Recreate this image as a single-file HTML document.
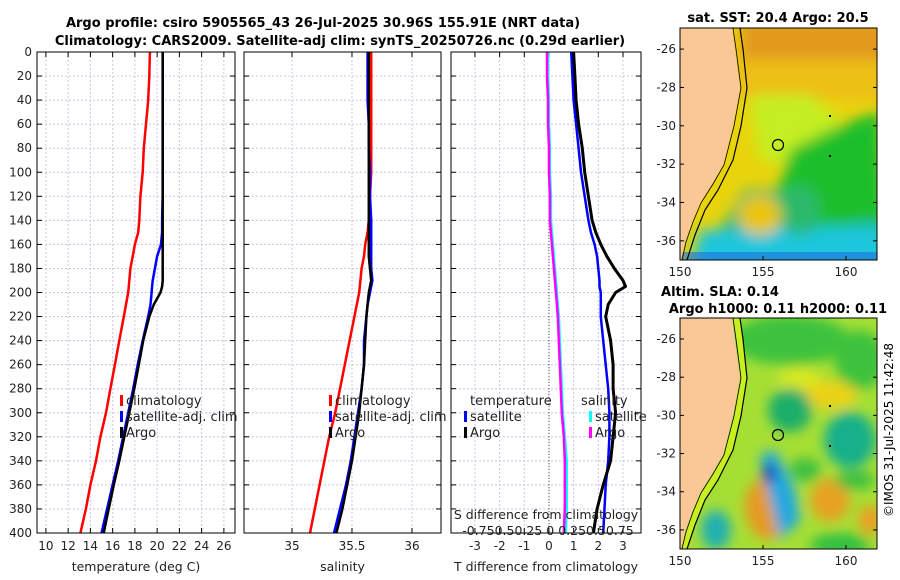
<!DOCTYPE html>
<html><head><meta charset="utf-8">
<style>
html,body{margin:0;padding:0;background:#fff;}
svg{display:block;font-family:"DejaVu Sans","Liberation Sans",sans-serif;}
</style></head>
<body>
<svg id="fig" width="900" height="580" viewBox="0 0 900 580">
<defs>
<filter id="bl" x="-20%" y="-20%" width="140%" height="140%"><feGaussianBlur stdDeviation="7"/></filter>
<filter id="bl2" x="-20%" y="-20%" width="140%" height="140%"><feGaussianBlur stdDeviation="6"/></filter>
<clipPath id="c1"><rect x="680" y="28" width="197" height="232"/></clipPath>
<clipPath id="c2"><rect x="680" y="318" width="197" height="231"/></clipPath>
</defs>
<text x="323" y="27" text-anchor="middle" font-size="13" font-weight="bold">Argo profile: csiro 5905565_43 26-Jul-2025 30.96S 155.91E (NRT data)</text>
<text x="340" y="45" text-anchor="middle" font-size="13" font-weight="bold">Climatology: CARS2009. Satellite-adj clim: synTS_20250726.nc (0.29d earlier)</text>

<!-- SST map -->
<g clip-path="url(#c1)">
<rect x="680" y="28" width="197" height="232" fill="#e9d40c"/>
<g filter="url(#bl)">
<rect x="740" y="20" width="150" height="55" fill="#e39a1c"/>
<rect x="730" y="60" width="160" height="40" fill="#edc012"/>
<path d="M750 95 L810 95 L840 120 L830 150 L790 165 L760 160Z" fill="#c4ef22"/>
<path d="M790 150 L830 130 L880 110 L890 270 L760 270 L770 220 Z" fill="#1fbf2a"/>
<path d="M745 190 L790 190 L800 230 L880 220 L890 270 L690 270 L720 230Z" fill="#27b77a"/>
<path d="M700 230 L880 225 L890 270 L690 270Z" fill="#1ec6dc"/>
<ellipse cx="760" cy="215" rx="22" ry="20" fill="#eac50c"/>
<ellipse cx="800" cy="210" rx="20" ry="25" fill="#2cb96a"/>
</g>
<rect x="680" y="252" width="197" height="8" fill="#2070e0" opacity="0.6"/>
<path d="M680 28 L732 28 L735 49 L740 88 L733 126 L723 165 L712 184 L700 203 L692 222 L685 242 L681 260 L680 260Z" fill="#f9c896"/>
<path d="M740 28 L743 49 L747 88 L741 126 L733 160 L718 190 L705 210 L695 235 L687 260" fill="none" stroke="#000" stroke-width="1.2"/>
<path d="M733 28 L736 49 L741 88 L734 126 L724 165 L713 184 L701 203 L693 222 L686 242 L682 260" fill="none" stroke="#000" stroke-width="0.8"/>
<circle cx="778" cy="145" r="5.5" fill="none" stroke="#000" stroke-width="1.2"/>
<rect x="829" y="115" width="2" height="2" fill="#000"/><rect x="829" y="155" width="2" height="2" fill="#000"/>
</g>
<rect x="680" y="28" width="197" height="232" fill="none" stroke="#000" stroke-width="1"/>
<text x="778" y="22" text-anchor="middle" font-size="13" font-weight="bold">sat. SST: 20.4 Argo: 20.5</text>

<!-- SLA map -->
<g clip-path="url(#c2)">
<rect x="680" y="318" width="197" height="231" fill="#a6df34"/>
<g filter="url(#bl2)">
<ellipse cx="790" cy="340" rx="60" ry="25" fill="#3cc23c"/>
<ellipse cx="860" cy="360" rx="25" ry="30" fill="#3cc23c"/>
<ellipse cx="800" cy="380" rx="22" ry="12" fill="#d8e820"/>
<ellipse cx="830" cy="395" rx="28" ry="14" fill="#ecd218"/>
<ellipse cx="790" cy="410" rx="22" ry="22" fill="#1fae6a"/>
<ellipse cx="850" cy="440" rx="26" ry="28" fill="#18b08a"/>
<ellipse cx="765" cy="510" rx="20" ry="30" fill="#e59a20" transform="rotate(-10 765 510)"/>
<ellipse cx="830" cy="500" rx="20" ry="22" fill="#e7a222"/>
<ellipse cx="805" cy="470" rx="16" ry="12" fill="#40c040"/>
<path d="M760 455 L775 450 L795 490 L800 520 L780 540 L770 500Z" fill="#20a8e0"/>
<ellipse cx="769" cy="474" rx="7" ry="10" fill="#1840c0"/>
<ellipse cx="716" cy="530" rx="15" ry="20" fill="#22b0b0"/>
<ellipse cx="870" cy="520" rx="12" ry="15" fill="#eaa020"/>
<ellipse cx="840" cy="545" rx="30" ry="12" fill="#30c040"/>
<ellipse cx="855" cy="480" rx="20" ry="10" fill="#40c040"/>
</g>
<path d="M680 318 L732 318 L735 339 L740 378 L733 416 L723 455 L712 474 L700 493 L692 512 L685 532 L681 549 L680 549Z" fill="#f9c896"/>
<path d="M733 318 L740 318 L743 339 L747 378 L741 416 L733 450 L718 480 L705 500 L695 525 L687 549 L682 549 L686 532 L693 512 L701 493 L713 474 L724 455 L734 416 L741 378 L736 339Z" fill="#c8ef20"/>
<path d="M740 318 L743 339 L747 378 L741 416 L733 450 L718 480 L705 500 L695 525 L687 549" fill="none" stroke="#000" stroke-width="1.2"/>
<path d="M733 318 L736 339 L741 378 L734 416 L724 455 L713 474 L701 493 L693 512 L686 532 L682 549" fill="none" stroke="#000" stroke-width="0.8"/>
<circle cx="778" cy="435" r="5.5" fill="none" stroke="#000" stroke-width="1.2"/>
<rect x="829" y="405" width="2" height="2" fill="#000"/><rect x="829" y="445" width="2" height="2" fill="#000"/>
</g>
<rect x="680" y="318" width="197" height="231" fill="none" stroke="#000" stroke-width="1"/>
<text x="720" y="296" text-anchor="middle" font-size="13" font-weight="bold">Altim. SLA: 0.14</text>
<text x="778" y="313" text-anchor="middle" font-size="13" font-weight="bold">Argo h1000: 0.11 h2000: 0.11</text>
<text transform="translate(893 430) rotate(-90)" text-anchor="middle" font-size="12">©IMOS 31-Jul-2025 11:42:48</text>
</svg>
<script>
const depth=[0,20,40,60,80,100,120,140,150,160,170,180,190,195,200,210,220,240,260,280,300,320,340,360,380,400];
const tempClim=[19.35,19.3,19.2,19.0,18.8,18.7,18.5,18.4,18.3,18.0,17.8,17.6,17.5,17.45,17.4,17.2,17.0,16.6,16.2,15.8,15.4,14.9,14.5,14.0,13.6,13.1];
const tempSat=[20.5,20.5,20.5,20.5,20.5,20.5,20.5,20.45,20.45,20.35,20.0,19.8,19.6,19.55,19.5,19.4,19.2,18.7,18.25,17.85,17.4,16.95,16.5,16.0,15.5,15.0];
const tempArgo=[20.5,20.5,20.5,20.5,20.5,20.5,20.5,20.5,20.5,20.5,20.5,20.5,20.5,20.45,20.3,19.7,19.3,18.75,18.35,17.95,17.5,17.05,16.6,16.1,15.65,15.2];
const salClim=[35.66,35.66,35.66,35.66,35.66,35.66,35.65,35.64,35.63,35.61,35.6,35.58,35.57,35.565,35.56,35.54,35.52,35.48,35.44,35.4,35.36,35.31,35.27,35.23,35.19,35.15];
const salSat=[35.63,35.63,35.63,35.64,35.64,35.65,35.65,35.66,35.66,35.66,35.66,35.66,35.67,35.66,35.65,35.63,35.62,35.6,35.6,35.58,35.55,35.52,35.49,35.45,35.4,35.35];
const salArgo=[35.64,35.64,35.64,35.64,35.64,35.64,35.64,35.64,35.64,35.64,35.64,35.65,35.66,35.65,35.64,35.63,35.62,35.61,35.6,35.58,35.56,35.53,35.5,35.46,35.42,35.37];
const tdiffSat=[0.9,0.95,1.0,1.1,1.2,1.3,1.45,1.6,1.7,1.85,1.95,2.0,2.05,2.05,2.1,2.1,2.1,2.2,2.3,2.4,2.45,2.45,2.4,2.3,2.25,2.2];
const tdiffArgo=[1.0,1.05,1.1,1.2,1.35,1.45,1.6,1.75,1.9,2.1,2.35,2.65,3.0,3.1,2.7,2.4,2.3,2.5,2.6,2.6,2.7,2.6,2.5,2.2,1.95,1.8];
const sdiffSat=[-0.01,-0.01,0,0,0.01,0.01,0.02,0.02,0.03,0.04,0.05,0.06,0.07,0.075,0.08,0.09,0.1,0.11,0.12,0.13,0.14,0.16,0.18,0.18,0.18,0.17];
const sdiffArgo=[-0.02,-0.02,-0.01,-0.01,0,0,0.01,0.01,0.02,0.03,0.04,0.05,0.06,0.065,0.07,0.08,0.09,0.1,0.11,0.12,0.13,0.15,0.16,0.16,0.16,0.15];
const depthTicks=[0,20,40,60,80,100,120,140,160,180,200,220,240,260,280,300,320,340,360,380,400];
const tempTicks=[10,12,14,16,18,20,22,24,26];
const salTicks=[35,35.5,36];
const tdiffTicks=[-3,-2,-1,0,1,2,3];
const latTicks=[-26,-28,-30,-32,-34,-36];
const lonTicks=[150,155,160];

const NS="http://www.w3.org/2000/svg";
const svg=document.getElementById('fig');
function mk(tag,attrs,parent){const e=document.createElementNS(NS,tag);for(const k in attrs)e.setAttribute(k,attrs[k]);(parent||svg).appendChild(e);return e;}
const Y0=52,Y1=533;
const yD=d=>Y0+(d/400)*(Y1-Y0);
function panel(name,x0,x1,xmin,xmax,ticks,fmt,showY,label){
  const g=mk('g',{});
  
  
  const xs=v=>x0+(v-xmin)/(xmax-xmin)*(x1-x0);
  ticks.forEach(t=>{mk('line',{x1:xs(t),x2:xs(t),y1:Y0,y2:Y1,stroke:'#c4c8e4','stroke-dasharray':'2,2','stroke-width':1},g);
    mk('line',{x1:xs(t),x2:xs(t),y1:Y1,y2:Y1-5,stroke:'#000'},g);mk('line',{x1:xs(t),x2:xs(t),y1:Y0,y2:Y0+5,stroke:'#000'},g);
    const tx=mk('text',{x:xs(t),y:Y1+17,'text-anchor':'middle','font-size':12,fill:'#222'},g);tx.textContent=fmt(t);});
  depthTicks.forEach(d=>{mk('line',{x1:x0,x2:x1,y1:yD(d),y2:yD(d),stroke:'#c4c8e4','stroke-dasharray':'2,2'},g);
    mk('line',{x1:x0,x2:x0+5,y1:yD(d),y2:yD(d),stroke:'#000'},g);mk('line',{x1:x1,x2:x1-5,y1:yD(d),y2:yD(d),stroke:'#000'},g);
    if(showY){const tx=mk('text',{x:x0-5,y:yD(d)+4,'text-anchor':'end','font-size':12,fill:'#222'},g);tx.textContent=d;}});
  const l=mk('text',{x:(x0+x1)/2,y:Y1+38,'text-anchor':'middle','font-size':12.5,fill:'#222'},g);l.textContent=label;
  return {g,xs,x0,x1};
}
function line(p,vals,color,w,name){
  const pts=vals.map((v,i)=>p.xs(v).toFixed(1)+','+yD(depth[i]).toFixed(1)).join(' ');
  const e=mk('polyline',{points:pts,fill:'none',stroke:color,'stroke-width':w,'stroke-linejoin':'round'},p.g);
  
  
}
function frame(p){mk('rect',{x:p.x0,y:Y0,width:p.x1-p.x0,height:Y1-Y0,fill:'none',stroke:'#000','stroke-width':1},p.g);}
function leg(p,x,y,color,txt){mk('rect',{x:x,y:y-10,width:3,height:11,fill:color},p.g);const t=mk('text',{x:x+6,y:y,'font-size':13,fill:'#222'},p.g);t.textContent=txt;}

const p1=panel('temperature-panel',37,235,9.2,27.0,tempTicks,t=>t,true,'temperature (deg C)');
line(p1,tempClim,'#ff0000',2.5,'temp-climatology-line');
line(p1,tempSat,'#0000ff',2.5,'temp-satellite-line');
line(p1,tempArgo,'#000',2.5,'temp-argo-line');
frame(p1);
leg(p1,120,405,'#ff0000','climatology');leg(p1,120,421,'#0000ff','satellite-adj. clim');leg(p1,120,437,'#000','Argo');

const p2=panel('salinity-panel',244,441,34.6,36.242,salTicks,t=>t,false,'salinity');
line(p2,salClim,'#ff0000',2.5,'sal-climatology-line');
line(p2,salSat,'#0000ff',2.5,'sal-satellite-line');
line(p2,salArgo,'#000',2.5,'sal-argo-line');
frame(p2);
leg(p2,329,405,'#ff0000','climatology');leg(p2,329,421,'#0000ff','satellite-adj. clim');leg(p2,329,437,'#000','Argo');

const p3=panel('difference-panel',451,641,-3.97,3.73,tdiffTicks,t=>t,false,'T difference from climatology');
mk('line',{x1:p3.xs(0),x2:p3.xs(0),y1:Y0,y2:Y1,stroke:'#555','stroke-dasharray':'1,2'},p3.g);
const ps={g:p3.g,xs:v=>p3.xs(v*4)};
line(ps,sdiffSat,'#00ffff',2.5,'sdiff-satellite-line');
line(ps,sdiffArgo,'#ff00ff',2.5,'sdiff-argo-line');
line(p3,tdiffSat,'#0000ff',2.5,'tdiff-satellite-line');
line(p3,tdiffArgo,'#000',3,'tdiff-argo-line');
frame(p3);
let t=mk('text',{x:470,y:405,'font-size':13,fill:'#222'},p3.g);t.textContent='temperature';
t=mk('text',{x:581,y:405,'font-size':13,fill:'#222'},p3.g);t.textContent='salinity';
leg(p3,464,421,'#0000ff','satellite');leg(p3,464,437,'#000','Argo');
leg(p3,589,421,'#00ffff','satellite');leg(p3,589,437,'#ff00ff','Argo');
t=mk('text',{x:546,y:519,'text-anchor':'middle','font-size':12.5,fill:'#222'},p3.g);t.textContent='S difference from climatology';
t=mk('text',{x:548,y:535,'text-anchor':'middle','font-size':12.5,fill:'#222'},p3.g);t.textContent='-0.750.50.25 0 0.250.50.75';

function mapAxes(name,top,bottom){
  const g=mk('g',{});
  
  
  const py=(bottom-top)/( -24.9 - -37 );
  latTicks.forEach(l=>{const y=top+(-24.9-l)*py;
    mk('line',{x1:680,x2:684,y1:y,y2:y,stroke:'#000'},g);mk('line',{x1:877,x2:873,y1:y,y2:y,stroke:'#000'},g);
    const tx=mk('text',{x:676,y:y+4,'text-anchor':'end','font-size':12,fill:'#222'},g);tx.textContent=l;});
  lonTicks.forEach(l=>{const x=680+(l-150)*16.6;
    mk('line',{x1:x,x2:x,y1:bottom,y2:bottom-4,stroke:'#000'},g);
    const tx=mk('text',{x:x,y:bottom+16,'text-anchor':'middle','font-size':12,fill:'#222'},g);tx.textContent=l;});
}
mapAxes('sst-map-axes',28,260);
mapAxes('sla-map-axes',318,549);
</script>
</body></html>
